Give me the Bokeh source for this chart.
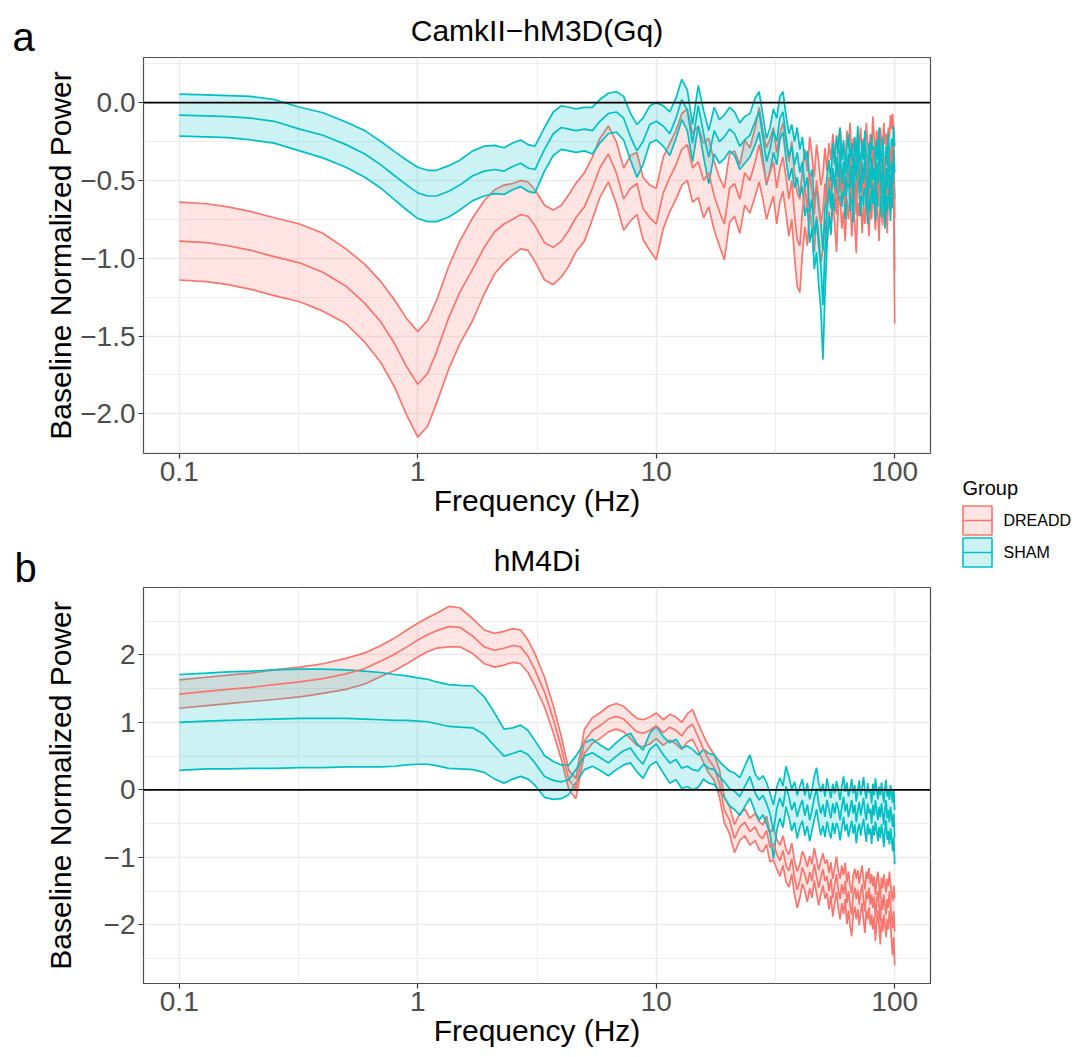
from bokeh.plotting import figure
from bokeh.models import Range1d, FixedTicker, Span, ColumnDataSource
from bokeh.layouts import row, column
from bokeh.embed import file_html
from bokeh.resources import INLINE

# ---------------- data ----------------
freq_lo = [0.1, 0.13, 0.16, 0.2, 0.25, 0.32, 0.4, 0.5, 0.6, 0.7,
           0.8, 0.9, 1.0, 1.1, 1.2, 1.35, 1.5, 1.7, 1.9, 2.1,
           2.3, 2.5, 2.7, 2.9, 3.1, 3.4, 3.7, 4.0, 4.3, 4.6,
           5.0, 5.4, 5.8, 6.3, 6.8, 7.3, 7.8, 8.3, 8.8, 9.4,
           10, 10.7, 11.4, 12.1, 12.8, 13.5, 14.2, 15, 15.8, 16.6,
           17.5, 18.4, 19.3, 20.3, 21.3, 22.4, 23.5, 24.7]
freq_hi = list(range(26, 101))
freq = freq_lo + freq_hi

groups = ["DREADD", "SHAM"]
panel_tags = ["a", "b"]

# Panel a: CamkII-hM3D(Gq)
a_dreadd_mean = [
    -0.89, -0.90, -0.92, -0.95, -0.99, -1.03, -1.09, -1.18, -1.29, -1.41,
    -1.55, -1.70, -1.81, -1.74, -1.60, -1.38, -1.22, -1.07, -0.93, -0.83,
    -0.78, -0.75, -0.72, -0.73, -0.79, -0.90, -0.93, -0.89, -0.82, -0.74,
    -0.67, -0.55, -0.42, -0.33, -0.45, -0.62, -0.55, -0.52, -0.68, -0.74,
    -0.78, -0.58, -0.48, -0.40, -0.30, -0.27, -0.42, -0.38, -0.50, -0.45,
    -0.60, -0.70, -0.78, -0.55, -0.52, -0.62, -0.45, -0.50,
    -0.38, -0.27, -0.40, -0.52, -0.45, -0.38, -0.55, -0.42, -0.35, -0.48,
    -0.62, -0.50, -0.72, -0.88, -0.92, -0.70, -0.55, -0.68, -0.45, -0.58,
    -0.72, -0.50, -0.62, -0.78, -0.70, -0.52, -0.68, -0.48, -0.60, -0.42,
    -0.55, -0.72, -0.45, -0.38, -0.58, -0.48, -0.65, -0.40, -0.52, -0.35,
    -0.62, -0.45, -0.55, -0.72, -0.42, -0.50, -0.38, -0.60, -0.45, -0.55,
    -0.35, -0.48, -0.62, -0.42, -0.52, -0.30, -0.45, -0.58, -0.40, -0.50,
    -0.65, -0.38, -0.48, -0.55, -0.35, -0.50, -0.42, -0.60, -0.38, -0.45,
    -0.30, -0.40, -0.28, -0.45, -1.08]
a_dreadd_se = [
    0.25, 0.25, 0.25, 0.25, 0.25, 0.25, 0.25, 0.24, 0.25, 0.26,
    0.28, 0.31, 0.34, 0.34, 0.33, 0.33, 0.33, 0.33, 0.30, 0.27,
    0.25, 0.23, 0.22, 0.22, 0.23, 0.24, 0.24, 0.23, 0.23, 0.22,
    0.22, 0.20, 0.19, 0.18, 0.20, 0.20, 0.21, 0.20, 0.20, 0.21,
    0.23, 0.23, 0.22, 0.22, 0.23, 0.23, 0.22, 0.23, 0.24, 0.22,
    0.22, 0.22, 0.23, 0.22, 0.21, 0.22, 0.21, 0.21,
    0.22, 0.24, 0.22, 0.23, 0.22, 0.22, 0.23, 0.22, 0.22, 0.23,
    0.24, 0.25, 0.27, 0.30, 0.30, 0.27, 0.25, 0.24, 0.23, 0.24,
    0.24, 0.23, 0.24, 0.25, 0.24, 0.23, 0.24, 0.22, 0.23, 0.22,
    0.23, 0.24, 0.22, 0.22, 0.23, 0.22, 0.24, 0.22, 0.23, 0.22,
    0.24, 0.22, 0.23, 0.25, 0.22, 0.23, 0.22, 0.24, 0.22, 0.23,
    0.22, 0.23, 0.24, 0.22, 0.23, 0.21, 0.22, 0.24, 0.22, 0.23,
    0.24, 0.22, 0.23, 0.24, 0.22, 0.23, 0.22, 0.24, 0.22, 0.23,
    0.22, 0.23, 0.21, 0.24, 0.34]
a_sham_mean = [
    -0.08, -0.085, -0.09, -0.10, -0.12, -0.17, -0.21, -0.27, -0.33, -0.40,
    -0.47, -0.53, -0.58, -0.60, -0.60, -0.57, -0.53, -0.47, -0.44, -0.43,
    -0.44, -0.41, -0.39, -0.42, -0.43, -0.30, -0.20, -0.16, -0.17, -0.18,
    -0.17, -0.18, -0.12, -0.07, -0.06, -0.10, -0.22, -0.31, -0.25, -0.14,
    -0.12, -0.15, -0.20, -0.10, 0.02, -0.05, -0.26, -0.02, -0.20, -0.35,
    -0.18, -0.25, -0.22, -0.17, -0.20, -0.28, -0.24, -0.21,
    -0.12, -0.06, -0.22, -0.38, -0.30, -0.18, -0.25, -0.10, -0.06, -0.22,
    -0.35, -0.28, -0.40, -0.32, -0.45, -0.38, -0.55, -0.48, -0.70, -0.62,
    -0.85, -0.75, -0.92, -1.05, -1.30, -0.95, -0.70, -0.55, -0.68, -0.42,
    -0.55, -0.35, -0.48, -0.30, -0.52, -0.38, -0.60, -0.42, -0.33, -0.55,
    -0.40, -0.62, -0.36, -0.50, -0.28, -0.45, -0.58, -0.38, -0.52, -0.32,
    -0.48, -0.62, -0.40, -0.55, -0.35, -0.50, -0.42, -0.60, -0.38, -0.52,
    -0.30, -0.48, -0.58, -0.36, -0.50, -0.65, -0.42, -0.55, -0.33, -0.47,
    -0.60, -0.38, -0.52, -0.30, -0.45]
a_sham_se = [
    0.135, 0.135, 0.135, 0.14, 0.14, 0.14, 0.145, 0.145, 0.15, 0.15,
    0.155, 0.16, 0.165, 0.165, 0.165, 0.165, 0.16, 0.16, 0.16, 0.155,
    0.15, 0.15, 0.15, 0.15, 0.15, 0.14, 0.14, 0.14, 0.14, 0.14,
    0.14, 0.15, 0.14, 0.13, 0.13, 0.14, 0.15, 0.17, 0.15, 0.12,
    0.12, 0.13, 0.14, 0.13, 0.13, 0.13, 0.12, 0.13, 0.15, 0.17,
    0.15, 0.14, 0.14, 0.14, 0.14, 0.15, 0.15, 0.14,
    0.15, 0.13, 0.14, 0.15, 0.14, 0.14, 0.15, 0.14, 0.13, 0.14,
    0.15, 0.14, 0.15, 0.16, 0.15, 0.16, 0.18, 0.17, 0.20, 0.19,
    0.22, 0.21, 0.25, 0.28, 0.35, 0.28, 0.22, 0.18, 0.17, 0.16,
    0.15, 0.14, 0.15, 0.14, 0.15, 0.14, 0.15, 0.14, 0.13, 0.15,
    0.14, 0.15, 0.14, 0.15, 0.13, 0.14, 0.15, 0.14, 0.15, 0.14,
    0.15, 0.16, 0.14, 0.15, 0.14, 0.15, 0.14, 0.16, 0.14, 0.15,
    0.14, 0.15, 0.16, 0.14, 0.15, 0.16, 0.14, 0.15, 0.14, 0.15,
    0.16, 0.15, 0.16, 0.15, 0.17]

# Panel b: hM4Di
b_dreadd_mean = [
    1.42, 1.46, 1.49, 1.52, 1.56, 1.60, 1.65, 1.72, 1.80, 1.91,
    2.01, 2.12, 2.22, 2.30, 2.36, 2.42, 2.41, 2.28, 2.12, 2.07,
    2.10, 2.14, 2.12, 1.98, 1.78, 1.45, 1.05, 0.62, 0.15, 0.02,
    0.72, 0.88, 0.95, 1.05, 1.09, 1.05, 0.95, 0.86, 0.84, 0.88,
    0.95, 0.85, 0.93, 0.88, 0.80, 0.92, 0.97, 0.78, 0.60, 0.45,
    0.33, 0.10, -0.30, -0.45, -0.72, -0.55, -0.48, -0.62,
    -0.55, -0.68, -0.72, -0.60, -0.85, -0.80, -0.95, -1.05, -0.90, -1.12,
    -1.20, -1.02, -1.30, -1.48, -1.35, -1.15, -1.25, -1.40, -1.22, -1.35,
    -1.10, -1.28, -1.45, -1.30, -1.18, -1.35, -1.28, -1.50, -1.32, -1.60,
    -1.42, -1.25, -1.48, -1.62, -1.40, -1.55, -1.35, -1.68, -1.50, -1.72,
    -1.85, -1.55, -1.45, -1.62, -1.48, -1.70, -1.52, -1.40, -1.65, -1.80,
    -1.50, -1.62, -1.45, -1.70, -1.55, -1.75, -1.58, -1.90, -1.65, -1.50,
    -1.72, -1.95, -1.60, -1.78, -1.55, -1.70, -1.85, -1.62, -1.75, -1.50,
    -1.68, -1.90, -2.05, -1.80, -2.10]
b_dreadd_se = [
    0.21, 0.21, 0.21, 0.21, 0.22, 0.22, 0.22, 0.23, 0.23, 0.23,
    0.24, 0.25, 0.25, 0.25, 0.26, 0.30, 0.29, 0.26, 0.25, 0.25,
    0.25, 0.25, 0.25, 0.24, 0.24, 0.22, 0.20, 0.17, 0.14, 0.15,
    0.18, 0.19, 0.19, 0.19, 0.19, 0.19, 0.19, 0.20, 0.20, 0.20,
    0.19, 0.19, 0.19, 0.20, 0.20, 0.21, 0.22, 0.20, 0.20, 0.20,
    0.19, 0.20, 0.19, 0.20, 0.21, 0.20, 0.20, 0.20,
    0.20, 0.21, 0.20, 0.21, 0.22, 0.24, 0.22, 0.23, 0.22, 0.24,
    0.24, 0.23, 0.25, 0.27, 0.25, 0.24, 0.25, 0.26, 0.24, 0.25,
    0.24, 0.25, 0.26, 0.25, 0.24, 0.26, 0.25, 0.27, 0.25, 0.28,
    0.27, 0.26, 0.28, 0.30, 0.28, 0.29, 0.27, 0.31, 0.29, 0.30,
    0.32, 0.29, 0.28, 0.30, 0.29, 0.31, 0.29, 0.28, 0.30, 0.32,
    0.29, 0.30, 0.29, 0.31, 0.30, 0.32, 0.30, 0.34, 0.31, 0.29,
    0.31, 0.34, 0.30, 0.32, 0.30, 0.31, 0.33, 0.30, 0.32, 0.29,
    0.31, 0.35, 0.40, 0.38, 0.50]
b_sham_mean = [
    1.00, 1.02, 1.03, 1.04, 1.05, 1.06, 1.06, 1.06, 1.05, 1.04,
    1.03, 1.03, 1.02, 1.01, 0.98, 0.94, 0.93, 0.92, 0.82, 0.65,
    0.50, 0.54, 0.58, 0.52, 0.40, 0.20, 0.14, 0.12, 0.15, 0.30,
    0.50, 0.55, 0.48, 0.40, 0.50, 0.58, 0.62, 0.48, 0.38, 0.60,
    0.68, 0.52, 0.40, 0.45, 0.32, 0.35, 0.30, 0.28, 0.38, 0.32,
    0.30, 0.20, 0.12, 0.02, -0.02, -0.10, 0.05, 0.20,
    -0.05, -0.15, -0.08, -0.20, -0.35, -0.62, -0.28, -0.12, -0.25, 0.05,
    -0.10, -0.30, -0.18, -0.40, -0.25, -0.15, -0.38, -0.22, -0.45, -0.30,
    -0.12, 0.02, -0.20, -0.35, -0.22, -0.40, -0.15, -0.30, -0.42, -0.20,
    -0.35, -0.18, -0.28, -0.45, -0.25, -0.10, -0.32, -0.20, -0.40, -0.28,
    -0.15, -0.35, -0.22, -0.48, -0.30, -0.18, -0.38, -0.25, -0.12, -0.32,
    -0.45, -0.20, -0.35, -0.28, -0.50, -0.22, -0.38, -0.15, -0.30, -0.45,
    -0.25, -0.40, -0.20, -0.35, -0.52, -0.28, -0.15, -0.42, -0.30, -0.48,
    -0.25, -0.38, -0.55, -0.35, -0.70]
b_sham_se = [
    0.71, 0.71, 0.72, 0.72, 0.73, 0.73, 0.73, 0.72, 0.71, 0.70,
    0.68, 0.66, 0.64, 0.63, 0.62, 0.62, 0.62, 0.62, 0.56, 0.49,
    0.40, 0.38, 0.38, 0.36, 0.33, 0.31, 0.28, 0.25, 0.22, 0.20,
    0.20, 0.20, 0.19, 0.19, 0.20, 0.21, 0.22, 0.21, 0.21, 0.24,
    0.26, 0.27, 0.30, 0.30, 0.30, 0.30, 0.30, 0.24, 0.22, 0.22,
    0.22, 0.22, 0.23, 0.26, 0.27, 0.28, 0.30, 0.32,
    0.28, 0.30, 0.29, 0.31, 0.30, 0.40, 0.32, 0.30, 0.31, 0.30,
    0.30, 0.31, 0.30, 0.32, 0.30, 0.31, 0.30, 0.32, 0.31, 0.30,
    0.32, 0.31, 0.30, 0.32, 0.31, 0.30, 0.32, 0.31, 0.30, 0.29,
    0.30, 0.31, 0.29, 0.30, 0.31, 0.30, 0.29, 0.31, 0.30, 0.29,
    0.31, 0.30, 0.29, 0.31, 0.30, 0.32, 0.30, 0.29, 0.31, 0.30,
    0.32, 0.30, 0.31, 0.29, 0.30, 0.31, 0.30, 0.32, 0.30, 0.31,
    0.30, 0.32, 0.31, 0.30, 0.33, 0.31, 0.30, 0.32, 0.31, 0.33,
    0.32, 0.34, 0.36, 0.35, 0.40]

x_ticks = [0.1, 1, 10, 100]
x_tick_labels = ["0.1", "1", "10", "100"]
a_y_ticks = [-2.0, -1.5, -1.0, -0.5, 0.0]
a_y_labels = ["\u22122.0", "\u22121.5", "\u22121.0", "\u22120.5", "0.0"]
b_y_ticks = [-2, -1, 0, 1, 2]
b_y_labels = ["\u22122", "\u22121", "0", "1", "2"]

# ---------------- style ----------------
COLORS = {"DREADD": "#F8766D", "SHAM": "#00BFC4"}
FONT = "Liberation Sans"
GRID = "#EBEBEB"
LOG_LO, LOG_HI = -1.15, 2.15
TAG_W = 40
FRAME_LEFT, FRAME_W = 143, 787
PA_W = FRAME_LEFT - TAG_W + FRAME_W + 10
PA_H, PB_H = 530, 519
TOTAL_H = PA_H + PB_H


def make_panel(title, series, y_range, y_ticks, y_labels, y_minor,
               height, border_top, border_bottom, ylabel_standoff):
    p = figure(width=PA_W, height=height, x_axis_type="log",
               x_range=Range1d(10 ** LOG_LO, 10 ** LOG_HI),
               y_range=Range1d(*y_range),
               output_backend="svg", toolbar_location=None,
               min_border_left=FRAME_LEFT - TAG_W, min_border_right=10,
               min_border_top=border_top, min_border_bottom=border_bottom)
    p.background_fill_color = "white"
    p.border_fill_color = "white"
    p.outline_line_color = "#4D4D4D"
    p.outline_line_width = 1.2

    xt = FixedTicker(ticks=x_ticks, minor_ticks=[10 ** -0.5, 10 ** 0.5, 10 ** 1.5])
    yt = FixedTicker(ticks=y_ticks, minor_ticks=y_minor)
    p.xaxis.ticker = xt
    p.yaxis.ticker = yt
    p.xgrid.ticker = xt
    p.ygrid.ticker = yt
    for g in (p.xgrid, p.ygrid):
        g.grid_line_color = GRID
        g.grid_line_width = 1.6
        g.minor_grid_line_color = GRID
        g.minor_grid_line_width = 0.9

    p.xaxis.major_label_overrides = dict(zip(x_ticks, x_tick_labels))
    p.yaxis.major_label_overrides = dict(zip(y_ticks, y_labels))
    for ax in (p.xaxis[0], p.yaxis[0]):
        ax.axis_line_color = None
        ax.major_tick_line_color = "#333333"
        ax.major_tick_line_width = 1.2
        ax.major_tick_out = 5
        ax.major_tick_in = 0
        ax.minor_tick_line_color = None
        ax.major_label_text_font = FONT
        ax.major_label_text_font_size = "28px"
        ax.major_label_text_color = "#4D4D4D"
        ax.major_label_standoff = 3
        ax.axis_label_text_font = FONT
        ax.axis_label_text_font_size = "30px"
        ax.axis_label_text_font_style = "normal"
        ax.axis_label_text_color = "black"
        ax.axis_label_standoff = 0
    p.yaxis[0].axis_label_standoff = ylabel_standoff
    p.xaxis.axis_label = "Frequency (Hz)"
    p.yaxis.axis_label = "Baseline Normalized Power"

    p.title.text = title
    p.title.align = "center"
    p.title.text_font = FONT
    p.title.text_font_size = "30px"
    p.title.text_font_style = "normal"
    p.title.text_color = "black"
    p.title.standoff = 21

    # ribbons (fill + outline), then mean lines
    srcs = {}
    for g in groups:
        mean, se = series[g]
        lower = [m - s for m, s in zip(mean, se)]
        upper = [m + s for m, s in zip(mean, se)]
        src = ColumnDataSource(dict(x=freq, mean=mean, lower=lower, upper=upper))
        srcs[g] = src
        p.varea(x="x", y1="lower", y2="upper", source=src,
                fill_color=COLORS[g], fill_alpha=0.2)
        p.line(x="x", y="lower", source=src, line_color=COLORS[g], line_width=1.7)
        p.line(x="x", y="upper", source=src, line_color=COLORS[g], line_width=1.7)
    for g in groups:
        p.line(x="x", y="mean", source=srcs[g], line_color=COLORS[g], line_width=1.7)

    p.add_layout(Span(location=0, dimension="width", line_color="black", line_width=1.6))
    return p


def blank_fig(w, h):
    f = figure(width=w, height=h, x_range=Range1d(0, w), y_range=Range1d(0, h),
               output_backend="svg", toolbar_location=None,
               x_axis_location=None, y_axis_location=None,
               min_border=0, min_border_left=0, min_border_right=0,
               min_border_top=0, min_border_bottom=0)
    f.grid.visible = False
    f.outline_line_color = None
    f.background_fill_color = "white"
    f.border_fill_color = "white"
    return f


pa = make_panel("CamkII\u2212hM3D(Gq)",
                {"DREADD": (a_dreadd_mean, a_dreadd_se), "SHAM": (a_sham_mean, a_sham_se)},
                (-2.255, 0.29), a_y_ticks, a_y_labels,
                [-2.25, -1.75, -1.25, -0.75, -0.25, 0.25],
                height=PA_H, border_top=57, border_bottom=77, ylabel_standoff=0)
pb = make_panel("hM4Di",
                {"DREADD": (b_dreadd_mean, b_dreadd_se), "SHAM": (b_sham_mean, b_sham_se)},
                (-2.87, 3.0), b_y_ticks, b_y_labels,
                [-2.5, -1.5, -0.5, 0.5, 1.5, 2.5],
                height=PB_H, border_top=57, border_bottom=66, ylabel_standoff=24)

# ---------------- panel tags strip (left) ----------------
tags = blank_fig(TAG_W, TOTAL_H)
tags.text(x=[12, 14], y=[TOTAL_H - 36, TOTAL_H - 567], text=panel_tags,
          text_font={"value": FONT}, text_font_size="40px",
          text_baseline="alphabetic", text_align="left", text_color="black")

# ---------------- legend strip (right) ----------------
LEG_W = 1077 - TAG_W - PA_W
leg = blank_fig(LEG_W, TOTAL_H)
key_y = [TOTAL_H - 520, TOTAL_H - 552]
leg_src = ColumnDataSource(dict(
    label=groups, color=[COLORS[g] for g in groups], y=key_y,
    x=[37, 37], x0=[23, 23], x1=[51, 51], tx=[63, 63]))
leg.rect(x="x", y="y", width=29, height=29, source=leg_src,
         fill_color="color", fill_alpha=0.2, line_color="color", line_width=1.6)
leg.segment(x0="x0", y0="y", x1="x1", y1="y", source=leg_src,
            line_color="color", line_width=1.6)
leg.text(x="tx", y="y", text="label", source=leg_src, text_font_size="16px",
         text_baseline="middle", text_align="left", text_color="black",
         text_font={"value": FONT})
leg.text(x=[22], y=[TOTAL_H - 487], text=["Group"], text_font_size="20px",
         text_baseline="middle", text_align="left", text_color="black",
         text_font={"value": FONT})

layout = row(tags, column(pa, pb), leg)
open("out.html", "w").write(file_html(layout, INLINE))
